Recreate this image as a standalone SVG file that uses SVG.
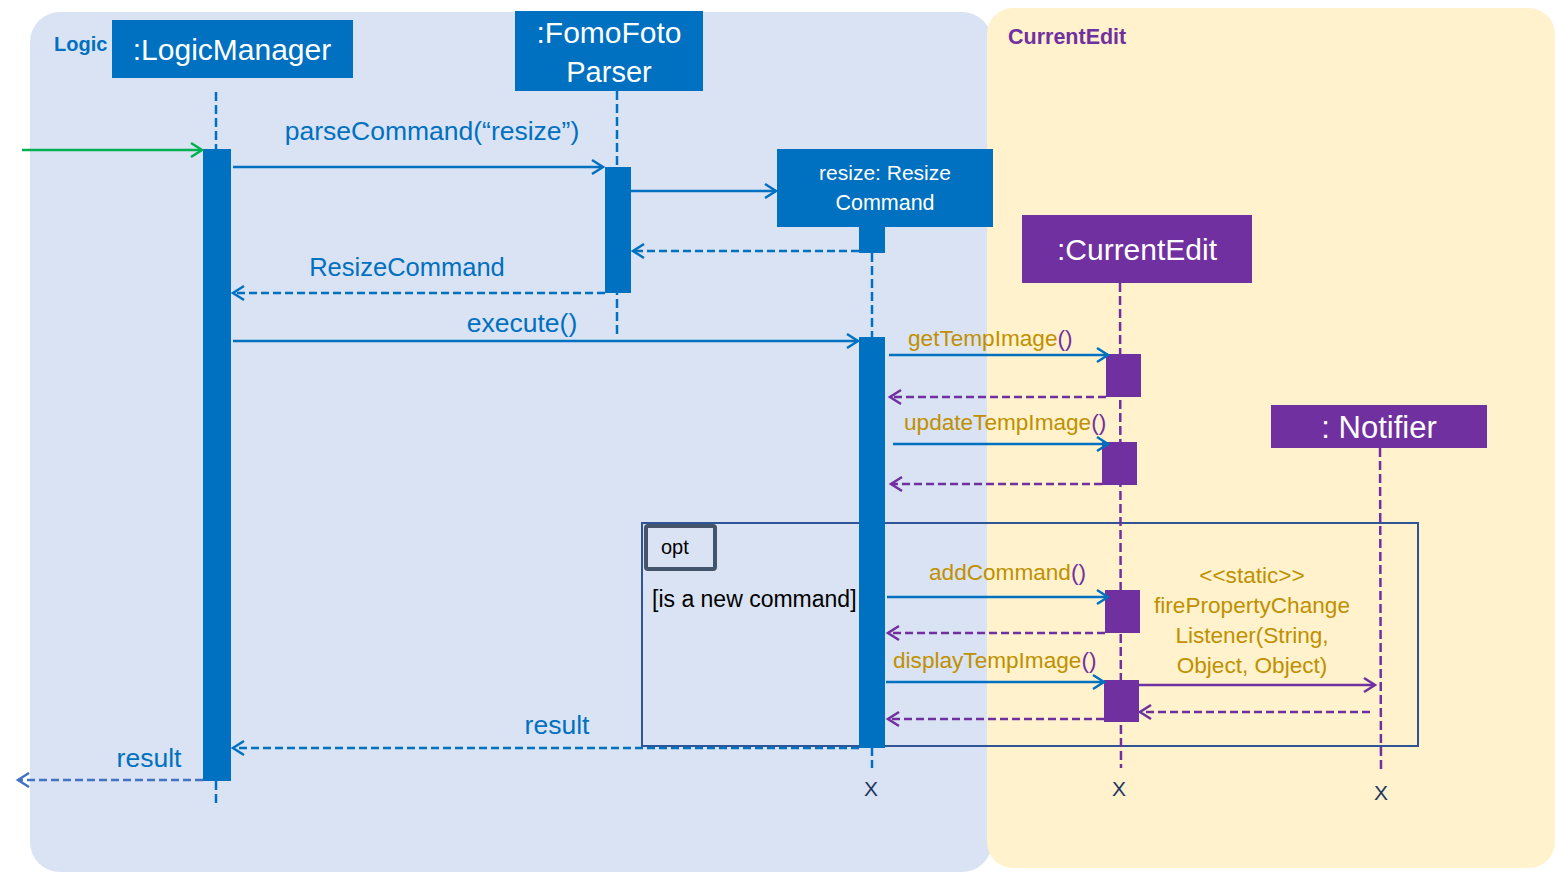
<svg xmlns="http://www.w3.org/2000/svg" width="1555" height="873" viewBox="0 0 1555 873">
<style>
text{font-family:"Liberation Sans",Arial,sans-serif}
.hdr{fill:#fff;font-size:30px;text-anchor:middle}
.lbl{fill:#0070C0;font-size:26.5px;text-anchor:middle}
.gold{fill:#BF9000;font-size:22.6px}
.ll{fill:none;stroke-width:2.5;stroke-dasharray:9 4}
.llb{stroke:#0070C0}
.llp{stroke:#7030A0}
.msg{fill:none;stroke-width:2.5}
.ret{fill:none;stroke-width:2.5;stroke-dasharray:8 4}
.x{fill:#1F3864;font-size:21px;text-anchor:middle}
</style>
<defs>
<marker id="ab" markerUnits="userSpaceOnUse" markerWidth="14" markerHeight="16" refX="11" refY="7" orient="auto" overflow="visible"><path d="M0,0 L11,7 L0,14" fill="none" stroke="#0070C0" stroke-width="2.5"/></marker>
<marker id="ag" markerUnits="userSpaceOnUse" markerWidth="14" markerHeight="16" refX="11" refY="7" orient="auto" overflow="visible"><path d="M0,0 L11,7 L0,14" fill="none" stroke="#00B050" stroke-width="2.5"/></marker>
<marker id="ap" markerUnits="userSpaceOnUse" markerWidth="14" markerHeight="16" refX="11" refY="7" orient="auto" overflow="visible"><path d="M0,0 L11,7 L0,14" fill="none" stroke="#7030A0" stroke-width="2.5"/></marker>
<marker id="al" markerUnits="userSpaceOnUse" markerWidth="14" markerHeight="16" refX="11" refY="7" orient="auto" overflow="visible"><path d="M0,0 L11,7 L0,14" fill="none" stroke="#4472C4" stroke-width="2.5"/></marker>
</defs>
<rect width="1555" height="873" fill="#fff"/>
<g id="region-logic">
<rect x="30" y="12" width="962" height="860" rx="30" fill="#DAE3F3"/>
<text x="54" y="51" style="font-size:20px" font-weight="bold" fill="#0070C0">Logic</text>
</g>
<g id="region-currentedit">
<rect x="987" y="8" width="568" height="860" rx="26" fill="#FFF2CC"/>
<text x="1008" y="44" style="font-size:21.5px" font-weight="bold" fill="#7030A0">CurrentEdit</text>
</g>
<g id="frame-opt">
<rect x="642" y="523" width="776" height="223" fill="none" stroke="#2F5597" stroke-width="2"/>
<rect x="646" y="526" width="69" height="43" rx="2" fill="none" stroke="#44546A" stroke-width="4"/>
<text x="661" y="554" style="font-size:20px" fill="#000">opt</text>
<text x="652" y="607" style="font-size:23px" fill="#000">[is a new command]</text>
</g>
<g id="node-logicmanager">
<rect x="112" y="20" width="241" height="58" fill="#0070C0"/>
<text class="hdr" x="232" y="60">:LogicManager</text>
<line class="ll llb" x1="216" y1="92" x2="216" y2="806"/>
<rect x="203" y="149" width="28" height="632" fill="#0070C0"/>
</g>
<g id="node-parser">
<rect x="515" y="11" width="188" height="80" fill="#0070C0"/>
<text class="hdr" x="609" y="43">:FomoFoto</text>
<text class="hdr" x="609" y="82" style="font-size:29px">Parser</text>
<line class="ll llb" x1="617" y1="91" x2="617" y2="335"/>
<rect x="605" y="167" width="26" height="126" fill="#0070C0"/>
</g>
<g id="node-resizecommand">
<rect x="777" y="149" width="216" height="78" fill="#0070C0"/>
<text class="hdr" x="885" y="180" style="font-size:21px">resize: Resize</text>
<text class="hdr" x="885" y="210" style="font-size:21.5px">Command</text>
<rect x="859" y="226" width="26" height="27" fill="#0070C0"/>
<line class="ll llb" x1="872" y1="253" x2="872" y2="768"/>
<rect x="859" y="337" width="26" height="411" fill="#0070C0"/>
<text class="x" x="871" y="796">X</text>
</g>
<g id="node-currentedit">
<rect x="1022" y="215" width="230" height="68" fill="#7030A0"/>
<text class="hdr" x="1137" y="260">:CurrentEdit</text>
<line class="ll llp" x1="1120" y1="283" x2="1121" y2="768"/>
<rect x="1106" y="354" width="35" height="43" fill="#7030A0"/>
<rect x="1102" y="442" width="35" height="43" fill="#7030A0"/>
<rect x="1105" y="590" width="35" height="43" fill="#7030A0"/>
<rect x="1104" y="680" width="35" height="42" fill="#7030A0"/>
<text class="x" x="1119" y="796">X</text>
</g>
<g id="node-notifier">
<rect x="1271" y="405" width="216" height="43" fill="#7030A0"/>
<text class="hdr" x="1379" y="438" style="font-size:31px">: Notifier</text>
<line class="ll llp" x1="1380" y1="448" x2="1381" y2="772"/>
<text class="x" x="1381" y="800">X</text>
</g>
<g id="connectors">
<line class="msg" x1="22" y1="150" x2="202" y2="150" stroke="#00B050" marker-end="url(#ag)"/>
<line class="msg" x1="233" y1="167" x2="603" y2="167" stroke="#0070C0" marker-end="url(#ab)"/>
<text class="lbl" x="432" y="140">parseCommand(“resize”)</text>
<line class="msg" x1="631" y1="191" x2="776" y2="191" stroke="#0070C0" marker-end="url(#ab)"/>
<line class="ret" x1="859" y1="251" x2="633" y2="251" stroke="#0070C0" marker-end="url(#ab)"/>
<line class="ret" x1="605" y1="293" x2="233" y2="293" stroke="#0070C0" marker-end="url(#ab)"/>
<text class="lbl" x="407" y="276" style="font-size:25.5px">ResizeCommand</text>
<line class="msg" x1="233" y1="341" x2="858" y2="341" stroke="#0070C0" marker-end="url(#ab)"/>
<text class="lbl" x="522" y="332">execute()</text>
<line class="msg" x1="889" y1="355" x2="1108" y2="355" stroke="#0070C0" marker-end="url(#ab)"/>
<text class="gold" x="908" y="346">getTempImage<tspan fill="#7030A0">()</tspan></text>
<line class="ret" x1="1106" y1="397" x2="890" y2="397" stroke="#7030A0" marker-end="url(#ap)"/>
<line class="msg" x1="893" y1="444" x2="1108" y2="444" stroke="#0070C0" marker-end="url(#ab)"/>
<text class="gold" x="904" y="430">updateTempImage<tspan fill="#7030A0">()</tspan></text>
<line class="ret" x1="1102" y1="484" x2="891" y2="484" stroke="#7030A0" marker-end="url(#ap)"/>
<line class="msg" x1="887" y1="597" x2="1108" y2="597" stroke="#0070C0" marker-end="url(#ab)"/>
<text class="gold" x="929" y="580">addCommand<tspan fill="#7030A0">()</tspan></text>
<line class="ret" x1="1105" y1="633" x2="888" y2="633" stroke="#7030A0" marker-end="url(#ap)"/>
<line class="msg" x1="886" y1="682" x2="1104" y2="682" stroke="#0070C0" marker-end="url(#ab)"/>
<text class="gold" x="893" y="668">displayTempImage<tspan fill="#7030A0">()</tspan></text>
<line class="msg" x1="1139" y1="685" x2="1375" y2="685" stroke="#7030A0" marker-end="url(#ap)"/>
<text class="gold" text-anchor="middle"><tspan x="1252" y="583">&lt;&lt;static&gt;&gt;</tspan><tspan x="1252" y="613">firePropertyChange</tspan><tspan x="1252" y="643">Listener(String,</tspan><tspan x="1252" y="673">Object, Object)</tspan></text>
<line class="ret" x1="1370" y1="712" x2="1140" y2="712" stroke="#7030A0" marker-end="url(#ap)"/>
<line class="ret" x1="1104" y1="719" x2="888" y2="719" stroke="#7030A0" marker-end="url(#ap)"/>
<line class="ret" x1="859" y1="748" x2="233" y2="748" stroke="#0070C0" marker-end="url(#ab)"/>
<text class="lbl" x="557" y="734">result</text>
<line class="ret" x1="203" y1="780" x2="18" y2="780" stroke="#4472C4" marker-end="url(#al)"/>
<text class="lbl" x="149" y="767">result</text>
</g>
</svg>
